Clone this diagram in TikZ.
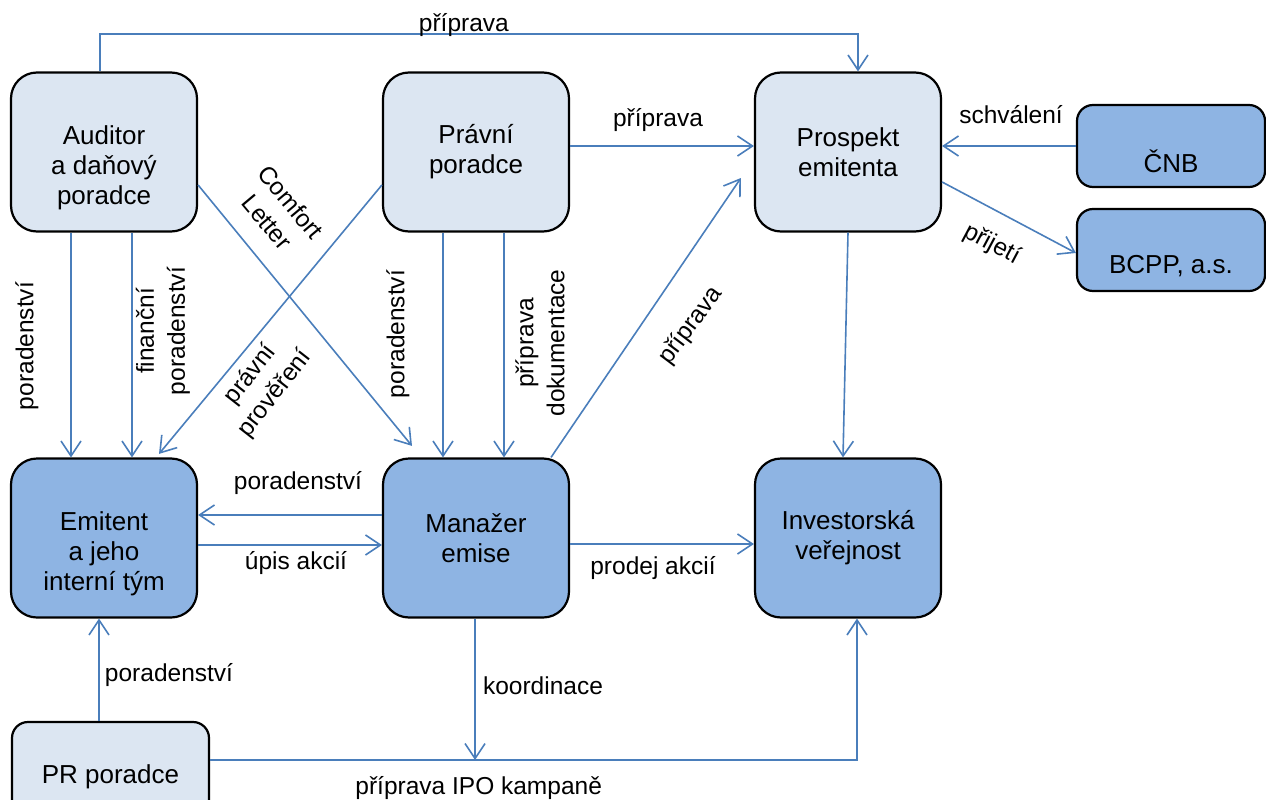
\documentclass[tikz,border=0pt]{standalone}
\usepackage{fontspec}
\setmainfont{Liberation Sans}
\usetikzlibrary{arrows.meta}

\definecolor{boxlight}{HTML}{DCE6F2}
\definecolor{boxdark}{HTML}{8EB4E3}
\definecolor{arrowblue}{HTML}{4A7EBB}

\newcommand\boxfont{\fontsize{26}{30}\selectfont}
\newcommand\lblfont{\fontsize{24.5}{31}\selectfont}

\begin{document}
\begin{tikzpicture}[x=1pt,y=-1pt,->,>={Straight Barb[length=15pt,width=20pt]},
                    node distance=372pt,line width=1.6pt,
                    every edge/.style={draw=arrowblue,line width=1.6pt},
                    party/.style={draw=black,line width=2.2pt,rounded corners=26pt,
                                  minimum width=186pt,minimum height=159pt,
                                  inner sep=0pt,align=center,font=\boxfont},
                    small/.style={minimum width=188pt,minimum height=82pt,
                                  rounded corners=16pt},
                    lbl/.style={font=\lblfont,align=center,inner sep=0pt}]
  \useasboundingbox (0,0) rectangle (1266,800);

  \node[party,fill=boxlight] (Auditor) at (104,152) {\strut\\Auditor\\a daňový\\poradce};
  \node[party,fill=boxlight] (Pravni)   [right of=Auditor] {Právní\\poradce};
  \node[party,fill=boxlight] (Prospekt) [right of=Pravni]  {Prospekt\\emitenta};
  \node[party,fill=boxdark]  (Emitent)  [below of=Auditor,node distance=386pt] {\strut\\Emitent\\a jeho\\interní tým};
  \node[party,fill=boxdark]  (Manazer)  [right of=Emitent] {Manažer\\emise};
  \node[party,fill=boxdark]  (Investor) [right of=Manazer] {Investorská\\veřejnost};
  \node[party,small,fill=boxdark] (CNB) at (1171,146) {\strut\\ČNB};
  \node[party,small,fill=boxdark] (BCPP) [below of=CNB,node distance=104pt] {\strut\\BCPP, a.s.};
  \node[party,fill=boxlight,minimum width=197pt,minimum height=110pt,
        rounded corners=16pt] (PR) at (110.5,777) {PR poradce};

  \coordinate (topL)  at (100,34);
  \coordinate (koord) at (475,760);

  % prospekt
  \draw[arrowblue] ([xshift=-4pt]Auditor.north) -- (topL)
        -| node[lbl,text=black,pos=0.24,yshift=9pt] {příprava} ([xshift=10pt]Prospekt.north);
  \path ([yshift=6pt]Pravni.east) edge node[lbl,xshift=-4pt,yshift=25.5pt] {příprava} ([yshift=6pt]Prospekt.west)
        (CNB.west) edge node[lbl,xshift=2pt,yshift=31pt] {schválení} ([yshift=6pt]Prospekt.east)
        ([yshift=-30pt]Prospekt.east) edge node[lbl,xshift=-17pt,yshift=-27pt,rotate=-28] {přijetí} ([yshift=-3pt]BCPP.west)
        ([xshift=75pt]Manazer.north) edge node[lbl,xshift=45pt,yshift=-8pt,rotate=53] {příprava} ([xshift=-13pt,yshift=-26pt]Prospekt.west)
        (Prospekt.south) edge ([xshift=-5pt]Investor.north);

  % poradci
  \path ([xshift=-33pt]Auditor.south) edge node[lbl,xshift=-44pt,yshift=-1pt,rotate=90] {poradenství} ([xshift=-33pt]Emitent.north)
        ([xshift=28pt]Auditor.south) edge node[lbl,xshift=31pt,yshift=14pt,rotate=90] {finanční\\poradenství} ([xshift=28pt]Emitent.north)
        ([yshift=-33pt]Auditor.east) edge node[lbl,pos=0.1,xshift=59.5pt,yshift=-1pt,rotate=-50] {Comfort\\Letter} ([xshift=-64pt,yshift=11.5pt]Manazer.north)
        ([yshift=-33pt]Pravni.west) edge node[lbl,pos=0.7,xshift=37pt,yshift=-11pt,rotate=52] {právní\\prověření} ([xshift=55pt,yshift=3.5pt]Emitent.north)
        ([xshift=-33pt]Pravni.south) edge node[lbl,xshift=-45pt,yshift=11pt,rotate=90] {poradenství} ([xshift=-33pt]Manazer.north)
        ([xshift=28pt]Pravni.south) edge node[lbl,xshift=36pt,yshift=2pt,rotate=90] {příprava\\dokumentace} ([xshift=28pt]Manazer.north);

  % emise
  \path ([yshift=23pt]Manazer.west) edge node[lbl,xshift=8pt,yshift=32pt] {poradenství} ([yshift=23pt]Emitent.east)
        ([yshift=-7pt]Emitent.east) edge node[lbl,xshift=6pt,yshift=-18pt] {úpis akcií} ([yshift=-7pt]Manazer.west)
        ([yshift=-6pt]Manazer.east) edge node[lbl,xshift=-9pt,yshift=-24pt] {prodej akcií} ([yshift=-6pt]Investor.west)
        ([xshift=-11.5pt]PR.north) edge node[lbl,xshift=70pt,yshift=-5pt] {poradenství} ([xshift=-5pt]Emitent.south)
        ([xshift=-1pt]Manazer.south) edge node[lbl,xshift=68pt,yshift=4pt] {koordinace} (koord);
  \draw[arrowblue] ([yshift=17pt]PR.east)
        -| node[lbl,text=black,pos=0.2076,yshift=-28pt] {příprava IPO kampaně} ([xshift=9pt]Investor.south);
\end{tikzpicture}
\end{document}
